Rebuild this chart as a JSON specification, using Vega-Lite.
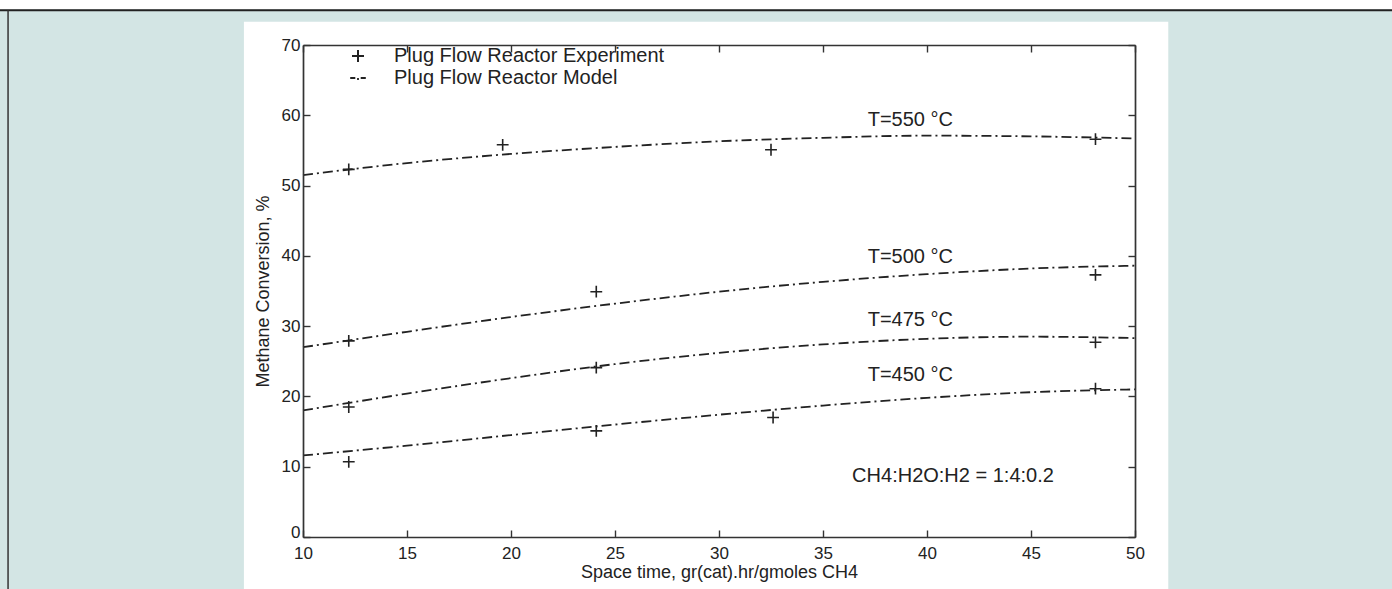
{
  "$schema": "https://vega.github.io/schema/vega-lite/v6.json",
  "width": 832,
  "height": 492,
  "autosize": "none",
  "padding": {"left": 303, "top": 45, "right": 257, "bottom": 52},
  "background": "#d3e5e4",
  "config": {
    "font": "Liberation Sans",
    "view": {"stroke": null},
    "axis": {
      "labelFont": "Liberation Sans",
      "titleFont": "Liberation Sans",
      "labelFontSize": 17,
      "labelColor": "#222222",
      "titleFontSize": 18,
      "titleFontWeight": "normal",
      "titleColor": "#222222",
      "domain": true,
      "domainColor": "#333333",
      "domainWidth": 1.7,
      "grid": false,
      "tickColor": "#333333",
      "tickWidth": 1.4,
      "tickSize": -7
    }
  },
  "datasets": {
    "model": [
      {"T": "550", "x": 10, "y": 51.5}, {"T": "550", "x": 15, "y": 53.2}, {"T": "550", "x": 20, "y": 54.5},
      {"T": "550", "x": 25, "y": 55.5}, {"T": "550", "x": 30, "y": 56.3}, {"T": "550", "x": 35, "y": 56.8},
      {"T": "550", "x": 40, "y": 57.1}, {"T": "550", "x": 45, "y": 57.0}, {"T": "550", "x": 50, "y": 56.7},
      {"T": "500", "x": 10, "y": 27.0}, {"T": "500", "x": 15, "y": 29.2}, {"T": "500", "x": 20, "y": 31.3},
      {"T": "500", "x": 25, "y": 33.2}, {"T": "500", "x": 30, "y": 34.9}, {"T": "500", "x": 35, "y": 36.3},
      {"T": "500", "x": 40, "y": 37.4}, {"T": "500", "x": 45, "y": 38.2}, {"T": "500", "x": 50, "y": 38.6},
      {"T": "475", "x": 10, "y": 18.0}, {"T": "475", "x": 15, "y": 20.4}, {"T": "475", "x": 20, "y": 22.6},
      {"T": "475", "x": 25, "y": 24.6}, {"T": "475", "x": 30, "y": 26.2}, {"T": "475", "x": 35, "y": 27.4},
      {"T": "475", "x": 40, "y": 28.2}, {"T": "475", "x": 45, "y": 28.5}, {"T": "475", "x": 50, "y": 28.3},
      {"T": "450", "x": 10, "y": 11.6}, {"T": "450", "x": 15, "y": 13.0}, {"T": "450", "x": 20, "y": 14.5},
      {"T": "450", "x": 25, "y": 16.0}, {"T": "450", "x": 30, "y": 17.4}, {"T": "450", "x": 35, "y": 18.7},
      {"T": "450", "x": 40, "y": 19.8}, {"T": "450", "x": 45, "y": 20.6}, {"T": "450", "x": 50, "y": 21.0}
    ],
    "experiment": [
      {"T": "550", "x": 12.2, "y": 52.3}, {"T": "550", "x": 19.6, "y": 55.8}, {"T": "550", "x": 32.5, "y": 55.1}, {"T": "550", "x": 48.1, "y": 56.6},
      {"T": "500", "x": 12.2, "y": 27.9}, {"T": "500", "x": 24.1, "y": 34.9}, {"T": "500", "x": 48.1, "y": 37.3},
      {"T": "475", "x": 12.2, "y": 18.5}, {"T": "475", "x": 24.1, "y": 24.1}, {"T": "475", "x": 48.1, "y": 27.7},
      {"T": "450", "x": 12.2, "y": 10.7}, {"T": "450", "x": 24.1, "y": 15.1}, {"T": "450", "x": 32.6, "y": 17.0}, {"T": "450", "x": 48.1, "y": 21.1}
    ],
    "labels": [
      {"x": 37.15, "y": 59.4, "label": "T=550 °C"},
      {"x": 37.15, "y": 39.8, "label": "T=500 °C"},
      {"x": 37.15, "y": 30.9, "label": "T=475 °C"},
      {"x": 37.15, "y": 23.0, "label": "T=450 °C"}
    ],
    "note": [
      {"x": 36.4, "y": 8.7, "label": "CH4:H2O:H2 = 1:4:0.2"}
    ]
  },
  "resolve": {"axis": {"x": "independent", "y": "independent"}},
  "layer": [
    {
      "data": {"values": [{}]},
      "mark": {"type": "rect", "fill": "#ffffff", "clip": false},
      "encoding": {
        "x": {"datum": 7.16, "type": "quantitative", "scale": {"domain": [10, 50], "nice": false, "zero": false}, "axis": null},
        "x2": {"datum": 51.6},
        "y": {"datum": 73.3, "type": "quantitative", "scale": {"domain": [0, 70], "nice": false, "zero": false}, "axis": null},
        "y2": {"datum": -10}
      }
    },
    {
      "data": {"values": [{}]},
      "mark": {"type": "rect", "fill": "#ffffff", "clip": false},
      "encoding": {
        "x": {"datum": -20, "type": "quantitative", "axis": null},
        "x2": {"datum": 70},
        "y": {"datum": 75.1, "type": "quantitative", "axis": null},
        "y2": {"datum": 80}
      }
    },
    {
      "data": {"values": [{}]},
      "mark": {"type": "rule", "stroke": "#222222", "strokeWidth": 2, "clip": false},
      "encoding": {
        "x": {"datum": -20, "type": "quantitative", "axis": null},
        "x2": {"datum": 70},
        "y": {"datum": 74.95, "type": "quantitative", "axis": null}
      }
    },
    {
      "data": {"values": [{}]},
      "mark": {"type": "rule", "stroke": "#333333", "strokeWidth": 1.5, "clip": false},
      "encoding": {
        "x": {"datum": -4.18, "type": "quantitative", "axis": null},
        "y": {"datum": 74.95, "type": "quantitative", "axis": null},
        "y2": {"datum": -10}
      }
    },
    {
      "data": {"name": "model"},
      "mark": {"type": "line", "interpolate": "monotone", "strokeDash": [10, 4, 2, 4], "strokeWidth": 1.8},
      "encoding": {
        "x": {"field": "x", "type": "quantitative", "axis": {"zindex": 2, "title": "Space time, gr(cat).hr/gmoles CH4", "titleFontSize": 18, "values": [10, 15, 20, 25, 30, 35, 40, 45, 50], "labelPadding": 15, "titlePadding": 2, "labelFlush": false}},
        "y": {"field": "y", "type": "quantitative", "axis": {"zindex": 2, "title": "Methane Conversion, %", "values": [0, 10, 20, 30, 40, 50, 60, 70], "labelPadding": 10, "titlePadding": 9, "labelBaseline": {"condition": {"test": "datum.value === 0", "value": "alphabetic"}, "value": "middle"}}},
        "detail": {"field": "T"},
        "color": {
          "datum": "Plug Flow Reactor Model",
          "scale": {"domain": ["Plug Flow Reactor Experiment", "Plug Flow Reactor Model"], "range": ["#222222", "#222222"]},
          "legend": {
            "orient": "none",
            "legendX": 45,
            "legendY": 1,
            "title": null,
            "padding": 0,
            "labelFont": "Liberation Sans",
            "labelFontSize": 20,
            "labelColor": "#222222",
            "labelLimit": 0,
            "symbolSize": 144,
            "symbolStrokeWidth": 1.5,
            "labelOffset": 26,
            "rowPadding": 2,
            "encode": {
              "symbols": {
                "update": {
                  "shape": {"signal": "datum.value === 'Plug Flow Reactor Model' ? 'M-1.3,0H-0.45M-0.15,0.15H0.15M0.45,0H1.3' : 'M-1,0H1M0,-1V1'"},
                  "fill": {"value": "transparent"},
                  "stroke": {"value": "#222222"},
                  "strokeWidth": {"value": 2},
                  "strokeDash": {"value": []}
                }
              }
            }
          }
        }
      }
    },
    {
      "data": {"name": "experiment"},
      "mark": {"type": "point", "shape": "M-1,0H1M0,-1V1", "size": 140, "filled": false, "strokeWidth": 1.6, "opacity": 1},
      "encoding": {
        "x": {"field": "x", "type": "quantitative", "axis": null},
        "y": {"field": "y", "type": "quantitative", "axis": null},
        "color": {"datum": "Plug Flow Reactor Experiment"}
      }
    },
    {
      "data": {"name": "labels"},
      "mark": {"type": "text", "align": "left", "baseline": "middle", "fontSize": 20, "font": "Liberation Sans", "color": "#222222"},
      "encoding": {
        "x": {"field": "x", "type": "quantitative", "axis": null},
        "y": {"field": "y", "type": "quantitative", "axis": null},
        "text": {"field": "label"}
      }
    },
    {
      "data": {"name": "note"},
      "mark": {"type": "text", "align": "left", "baseline": "middle", "fontSize": 20, "font": "Liberation Sans", "color": "#222222"},
      "encoding": {
        "x": {"field": "x", "type": "quantitative", "axis": null},
        "y": {"field": "y", "type": "quantitative", "axis": null},
        "text": {"field": "label"}
      }
    },
    {
      "data": {"values": [{}]},
      "mark": {"type": "point", "opacity": 0},
      "encoding": {
        "x": {"datum": 10, "type": "quantitative", "axis": {"zindex": 2, "orient": "top", "title": null, "labels": false, "values": [10, 15, 20, 25, 30, 35, 40, 45, 50]}},
        "y": {"datum": 0, "type": "quantitative", "axis": {"zindex": 2, "orient": "right", "title": null, "labels": false, "values": [0, 10, 20, 30, 40, 50, 60, 70]}}
      }
    }
  ]
}
